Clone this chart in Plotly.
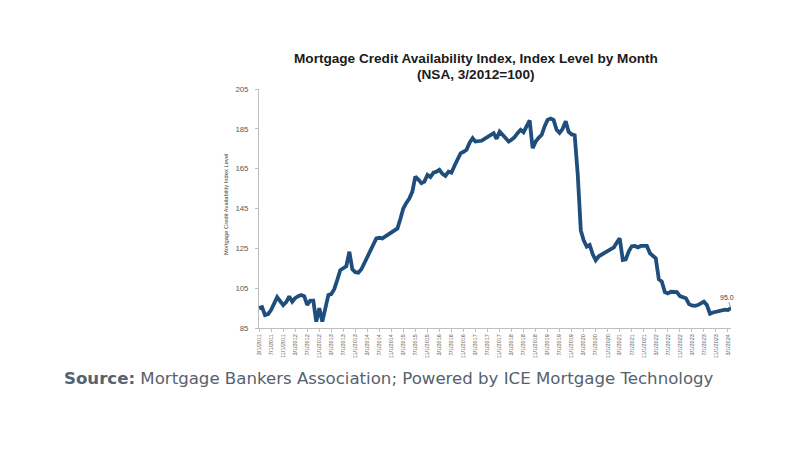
import plotly.graph_objects as go
import pandas as pd

# Monthly MCAI index level, March 2011 .. April 2024
start_month = "2011-03-01"
mcai_values = [
    95.0, 95.5, 91.5, 92.0, 94.0, 97.5, 100.5, 98.5, 96.5, 98.0,      # 3/11 - 12/11
    100.8, 98.2, 100.0, 101.0, 101.6, 101.0, 96.6, 98.7, 98.7, 88.2,  # 1/12 - 10/12
    95.0, 88.2, 96.0, 101.6, 102.0, 104.5, 109.0, 114.0, 115.0, 116.0, # 11/12 - 8/13
    123.3, 114.5, 113.0, 112.8, 114.5, 117.5, 120.8, 124.0, 127.0, 130.0,
    130.3, 130.0, 131.0, 132.0, 133.0, 134.0, 135.0, 140.0, 145.0, 147.8,
    150.0, 153.5, 161.0, 159.5, 157.7, 158.5, 161.9, 160.8, 163.0, 163.5,
    164.4, 162.4, 161.4, 163.5, 163.0, 166.5, 169.5, 172.7, 173.5, 174.5,
    178.0, 180.3, 178.6, 178.8, 179.0, 180.0, 181.0, 182.0, 182.8, 180.0,
    183.6, 182.0, 180.3, 178.6, 179.5, 180.8, 182.8, 184.5, 183.3, 186.0,
    189.2, 175.3, 178.6, 180.5, 182.0, 186.5, 189.5, 190.2, 189.5, 184.5,
    183.0, 185.0, 188.8, 183.5, 182.2, 181.8, 162.0, 134.0, 129.0, 125.9,
    126.7, 122.0, 119.0, 121.0, 122.0, 122.5, 124.0, 124.5, 125.5, 128.0,
    130.0, 119.2, 119.5, 123.5, 126.0, 126.2, 125.5, 126.2, 126.0, 126.2,
    122.5, 121.0, 120.0, 109.5, 108.3, 103.0, 102.4, 103.2, 103.2, 103.0,
    101.0, 100.5, 99.9, 97.0, 96.3, 96.1, 96.5, 97.4, 98.2, 96.5,
    92.2, 92.8, 93.2, 93.8, 94.0, 94.2, 94.0, 95.0,
]
dates = pd.date_range(start_month, periods=len(mcai_values), freq="MS")

tick_dates = pd.date_range("2011-03-01", "2024-03-01", freq="4MS")
tick_labels = [f"{d.month}/1/{d.year}" for d in tick_dates]
y_ticks = [85, 105, 125, 145, 165, 185, 205]

title_line1 = "<b>Mortgage Credit Availability Index, Index Level by Month</b>"
title_line2 = "<b>(NSA, 3/2012=100)</b>"
y_title = "Mortgage Credit Availability Index Level"
source_text = "<b>Source:</b> Mortgage Bankers Association; Powered by ICE Mortgage Technology"
last_label = "95.0"

W, H = 800, 450
L, R, T, B = 259, 69, 89, 122
pw, ph = W - L - R, H - T - B


def px_x(px):
    return (px - L) / pw


def px_y(py):
    return (T + ph - py) / ph


fig = go.Figure()
fig.add_trace(go.Scatter(
    x=dates, y=mcai_values, mode="lines",
    line=dict(color="#1f4e7d", width=3.8, shape="linear"),
    hoverinfo="skip", showlegend=False,
))

fig.add_annotation(
    x=dates[-1], y=mcai_values[-1], xref="x", yref="y",
    text=last_label, showarrow=True, arrowhead=0, arrowwidth=0.8,
    arrowcolor="#808080", ax=-4, ay=-11,
    font=dict(family="Liberation Sans", size=7, color="#404040"),
)

title_font = dict(family="Liberation Sans", size=13.6, color="#1a1a1a")
fig.add_annotation(
    x=px_x(476), y=px_y(67), xref="paper", yref="paper",
    text=title_line1, showarrow=False, xanchor="center", yanchor="bottom",
    font=title_font, borderpad=0,
)
fig.add_annotation(
    x=px_x(476), y=px_y(66), xref="paper", yref="paper",
    text=title_line2, showarrow=False, xanchor="center", yanchor="top",
    font=title_font, borderpad=0,
)

fig.add_annotation(
    x=px_x(226), y=px_y(205), xref="paper", yref="paper",
    text=y_title, textangle=-90, showarrow=False, xanchor="center", yanchor="middle",
    font=dict(family="Liberation Sans", size=5.8, color="#404040"),
)

fig.add_annotation(
    x=px_x(62), y=px_y(378), xref="paper", yref="paper",
    text=source_text, showarrow=False, xanchor="left", yanchor="middle",
    font=dict(family="DejaVu Sans", size=16.6, color="#55626e"),
)

fig.update_layout(
    width=W, height=H,
    margin=dict(l=L, r=R, t=T, b=B, pad=0),
    paper_bgcolor="white", plot_bgcolor="white",
    xaxis=dict(
        range=[dates[0], dates[-1]],
        tickvals=tick_dates, ticktext=tick_labels, tickangle=-90,
        tickfont=dict(family="Liberation Sans", size=5.5, color="#595959"),
        showgrid=False, zeroline=False,
        showline=True, linecolor="#bfbfbf", linewidth=1,
        ticks="outside", ticklen=3, tickcolor="#bfbfbf",
    ),
    yaxis=dict(
        range=[85, 205], tickvals=y_ticks,
        tickfont=dict(family="Liberation Sans", size=7.8, color="#595959"),
        showgrid=False, zeroline=False,
        showline=True, linecolor="#bfbfbf", linewidth=1,
        ticks="outside", ticklen=3, tickcolor="#bfbfbf",
        ticklabelstandoff=5,
    ),
)

fig.write_html("out.html")
